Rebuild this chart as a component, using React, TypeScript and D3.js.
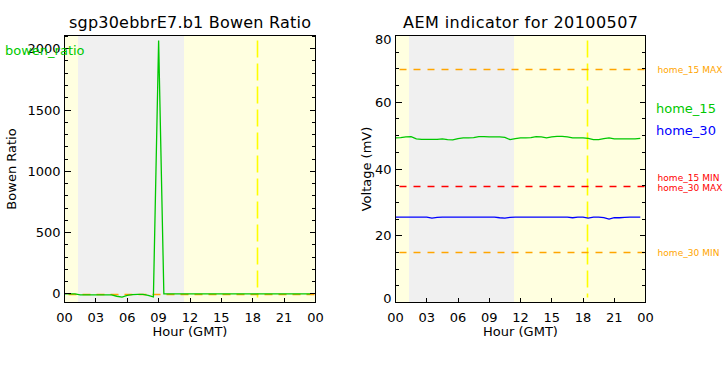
import React from 'react';
import * as d3 from 'd3';

// ---------- data ----------
const hours = [
  0, 0.5, 1, 1.5, 2, 2.5, 3, 3.5, 4, 4.5, 5, 5.5, 6, 6.5, 7, 7.5,
  8, 8.5, 9, 9.5, 10, 10.5, 11, 11.5, 12, 12.5, 13, 13.5, 14, 14.5, 15, 15.5,
  16, 16.5, 17, 17.5, 18, 18.5, 19, 19.5, 20, 20.5, 21, 21.5, 22, 22.5, 23, 23.5,
];

const bowenRatio = [
  0, 0, 0, -8, -8, -8, -8, -8, -8, -9, -20, -27, -13, -6, -4, -4,
  -12, -25, 2068, 0, 0, 0, 0, 0, 0, 0, 0, 0, 0, 0, 0, 0,
  0, 0, 0, 0, 0, 0, 0, 0, 0, 0, 0, 0, 0, 0, 0, 0,
];

const home15 = [
  49.3, 49.4, 49.6, 49.7, 49.0, 48.9, 48.9, 48.9, 48.9, 49.0, 48.8, 48.7, 49.1, 49.3, 49.3, 49.4,
  49.7, 49.7, 49.6, 49.6, 49.6, 49.5, 48.8, 49.1, 49.3, 49.3, 49.4, 49.7, 49.6, 49.3, 49.6, 49.8,
  49.8, 49.6, 49.3, 49.3, 49.3, 49.2, 48.8, 48.8, 49.1, 49.3, 49.0, 49.0, 49.0, 49.0, 49.0, 49.2,
];

const home30 = [
  25.6, 25.6, 25.6, 25.6, 25.6, 25.6, 25.6, 25.3, 25.5, 25.6, 25.6, 25.6, 25.6, 25.6, 25.6, 25.6,
  25.6, 25.6, 25.6, 25.6, 25.4, 25.3, 25.5, 25.6, 25.6, 25.6, 25.6, 25.6, 25.6, 25.6, 25.6, 25.6,
  25.6, 25.6, 25.4, 25.6, 25.6, 25.3, 25.6, 25.6, 25.4, 25.0, 25.4, 25.4, 25.5, 25.6, 25.6, 25.6,
];

const xTickHours = [0, 3, 6, 9, 12, 15, 18, 21, 24];
const xTickLabels = ['00', '03', '06', '09', '12', '15', '18', '21', '00'];
const bowenMajorTicks = [0, 500, 1000, 1500, 2000];
const voltMajorTicks = [0, 20, 40, 60, 80];

const thresholdValues = [70, 35, 15]; // home_15 MAX, home_15 MIN / home_30 MAX, home_30 MIN
const thresholdLabels = ['home_15 MAX', 'home_15 MIN', 'home_30 MAX', 'home_30 MIN'];

const nightStart = 1.3;
const nightEnd = 11.42;
const solarNoon = 18.38;

// ---------- styles ----------
const FONT = 'DejaVu Sans, sans-serif';
const GREEN = '#00c800';
const BLUE = '#0000ff';
const ORANGE = '#ffa500';
const RED = '#ff0000';
const YELLOW = '#ffff00';
const DAY_BG = '#ffffe0';
const NIGHT_BG = '#f0f0f0';

type PanelProps = {
  left: number;
  right: number;
  top: number;
  bottom: number;
  yDomain: [number, number];
  yMajor: number[];
  yMinorStep: number;
  title: string;
  titleLength: number;
  yLabel: string;
  yLabelX: number;
  children: (x: d3.ScaleLinear<number, number>, y: d3.ScaleLinear<number, number>) => React.ReactNode;
};

function Panel(p: PanelProps) {
  const x = d3.scaleLinear().domain([0, 24]).range([p.left, p.right]);
  const y = d3.scaleLinear().domain(p.yDomain).range([p.bottom, p.top]);
  const minor = d3
    .range(Math.ceil(p.yDomain[0] / p.yMinorStep) * p.yMinorStep, p.yDomain[1] + 1e-9, p.yMinorStep)
    .filter((v) => !p.yMajor.includes(v));
  const cx = (p.left + p.right) / 2;
  const cy = (p.top + p.bottom) / 2;
  const xn = Math.round(x(solarNoon)) + 0.5;
  return (
    <g>
      {/* backgrounds */}
      <rect x={p.left} y={p.top} width={p.right - p.left} height={p.bottom - p.top} fill={DAY_BG} shapeRendering="crispEdges" />
      <rect x={x(nightStart)} y={p.top} width={x(nightEnd) - x(nightStart)} height={p.bottom - p.top} fill={NIGHT_BG} shapeRendering="crispEdges" />
      {/* solar noon */}
      <line x1={xn} x2={xn} y1={p.top + 5} y2={p.bottom - 5} stroke={YELLOW} strokeWidth={1.6} strokeDasharray="17,6" />
      {p.children(x, y)}
      {/* frame */}
      <rect x={p.left} y={p.top} width={p.right - p.left} height={p.bottom - p.top} fill="none" stroke="#000" strokeWidth={1} shapeRendering="crispEdges" />
      {/* y ticks */}
      {p.yMajor.map((v) => (
        <g key={'M' + v}>
          <line x1={p.left} x2={p.left + 6} y1={y(v)} y2={y(v)} stroke="#000" shapeRendering="crispEdges" />
          <line x1={p.right - 6} x2={p.right} y1={y(v)} y2={y(v)} stroke="#000" shapeRendering="crispEdges" />
          <text
            x={p.left - 4}
            y={Math.min(Math.max(y(v) + 4.5, p.top + 8.3), p.bottom)}
            textAnchor="end"
            fontFamily={FONT}
            fontSize={13}
          >
            {v}
          </text>
        </g>
      ))}
      {minor.map((v) => (
        <g key={'m' + v}>
          <line x1={p.left} x2={p.left + 3.5} y1={y(v)} y2={y(v)} stroke="#000" shapeRendering="crispEdges" />
          <line x1={p.right - 3.5} x2={p.right} y1={y(v)} y2={y(v)} stroke="#000" shapeRendering="crispEdges" />
        </g>
      ))}
      {/* x ticks */}
      {xTickHours.map((h, i) => (
        <g key={'x' + i}>
          {i > 0 && i < xTickHours.length - 1 && (
            <line x1={x(h)} x2={x(h)} y1={p.bottom} y2={p.bottom - 5} stroke="#000" shapeRendering="crispEdges" />
          )}
          <text x={x(h)} y={321.7} textAnchor="middle" fontFamily={FONT} fontSize={13}>
            {xTickLabels[i]}
          </text>
        </g>
      ))}
      <text x={cx} y={335.5} textAnchor="middle" fontFamily={FONT} fontSize={13}>
        Hour (GMT)
      </text>
      <text
        transform={`translate(${p.yLabelX},${cy}) rotate(-90)`}
        textAnchor="middle"
        fontFamily={FONT}
        fontSize={13}
      >
        {p.yLabel}
      </text>
      <text
        x={cx}
        y={28}
        textAnchor="middle"
        fontFamily={FONT}
        fontSize={16}
        textLength={p.titleLength}
        lengthAdjust="spacing"
      >
        {p.title}
      </text>
    </g>
  );
}

export default function App() {
  const bowenPts = hours.map((h, i) => [h, bowenRatio[i]] as [number, number]);
  const h15Pts = hours.map((h, i) => [h, home15[i]] as [number, number]);
  const h30Pts = hours.map((h, i) => [h, home30[i]] as [number, number]);

  return (
    <svg width={725} height={375} style={{ position: 'absolute', left: 0, top: 0, background: '#fff' }}>
      <rect x={0} y={0} width={725} height={375} fill="#fff" />
      <Panel
        left={64.5}
        right={315.5}
        top={35.5}
        bottom={302.5}
        yDomain={[-71, 2108]}
        yMajor={bowenMajorTicks}
        yMinorStep={100}
        title="sgp30ebbrE7.b1  Bowen Ratio"
        titleLength={242}
        yLabel="Bowen Ratio"
        yLabelX={15.5}
      >
        {(x, y) => {
          const line = d3.line<[number, number]>().x((d) => x(d[0])).y((d) => y(d[1]));
          const y0 = Math.round(y(0)) + 0.5;
          return (
            <g>
              <line x1={x(0)} x2={x(24)} y1={y0} y2={y0} stroke={ORANGE} strokeWidth={1.5} strokeDasharray="8,6" strokeDashoffset={-4} />
              <path d={line(bowenPts) || ''} fill="none" stroke={GREEN} strokeWidth={1.3} />
            </g>
          );
        }}
      </Panel>
      <Panel
        left={395.5}
        right={645.5}
        top={35.5}
        bottom={302.5}
        yDomain={[0, 80]}
        yMajor={voltMajorTicks}
        yMinorStep={5}
        title="AEM indicator for 20100507"
        titleLength={235}
        yLabel="Voltage (mV)"
        yLabelX={370.5}
      >
        {(x, y) => {
          const line = d3.line<[number, number]>().x((d) => x(d[0])).y((d) => y(d[1]));
          const colors = [ORANGE, RED, ORANGE];
          return (
            <g>
              {thresholdValues.map((v, i) => {
                const yy = Math.round(y(v)) + 0.5;
                return (
                  <line key={i} x1={x(0)} x2={x(24)} y1={yy} y2={yy} stroke={colors[i]} strokeWidth={1.5} strokeDasharray="7,7" strokeDashoffset={-4} />
                );
              })}
              <path d={line(h15Pts) || ''} fill="none" stroke={GREEN} strokeWidth={1.3} />
              <path d={line(h30Pts) || ''} fill="none" stroke={BLUE} strokeWidth={1.3} />
            </g>
          );
        }}
      </Panel>
      {/* legend / labels */}
      <text x={5} y={55} fontFamily={FONT} fontSize={13} fill={GREEN}>bowen_ratio</text>
      <text x={656} y={113} fontFamily={FONT} fontSize={13} fill={GREEN}>home_15</text>
      <text x={656} y={135} fontFamily={FONT} fontSize={13} fill={BLUE}>home_30</text>
      <text x={657.5} y={73} fontFamily={FONT} fontSize={9} fill={ORANGE} textLength={65} lengthAdjust="spacing">{thresholdLabels[0]}</text>
      <text x={657.5} y={181.3} fontFamily={FONT} fontSize={9} fill={RED} textLength={62} lengthAdjust="spacing">{thresholdLabels[1]}</text>
      <text x={657.5} y={191} fontFamily={FONT} fontSize={9} fill={RED} textLength={65} lengthAdjust="spacing">{thresholdLabels[2]}</text>
      <text x={657.5} y={255.7} fontFamily={FONT} fontSize={9} fill={ORANGE} textLength={62} lengthAdjust="spacing">{thresholdLabels[3]}</text>
    </svg>
  );
}
